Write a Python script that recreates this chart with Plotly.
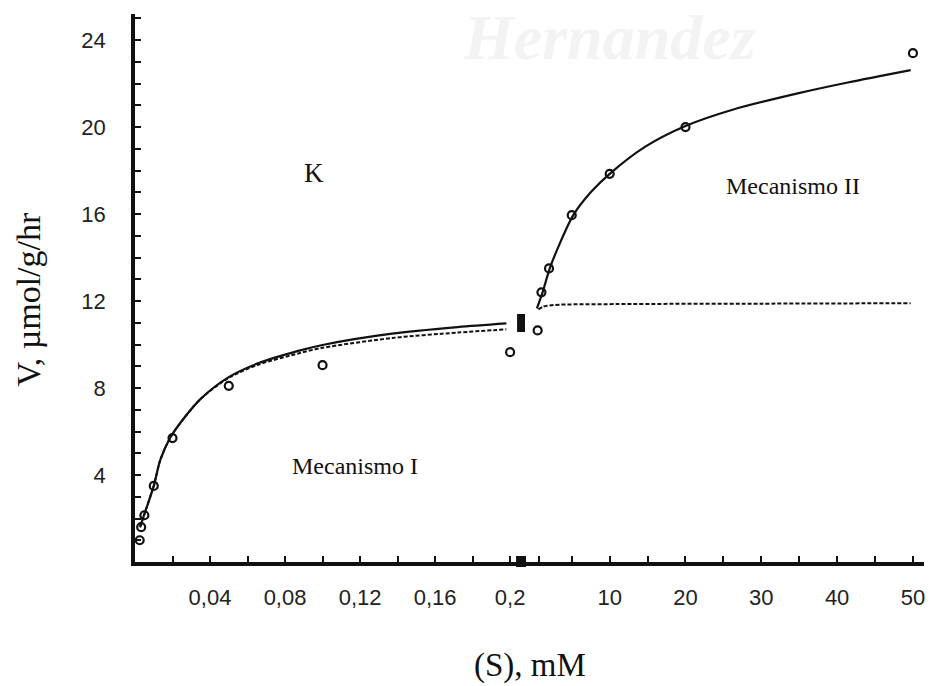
import plotly.graph_objects as go

# Measured rates, low-affinity range (S in mM, V in µmol/g/hr)
s_low = [0.0025, 0.0033, 0.005, 0.01, 0.02, 0.05, 0.1, 0.2]
v_low = [1.0, 1.6, 2.15, 3.5, 5.7, 8.1, 9.05, 9.65]

# Measured rates, high-concentration range
s_high = [0.5, 1, 2, 5, 10, 20, 50]
v_high = [10.65, 12.4, 13.5, 15.95, 17.85, 20.0, 23.4]

# Fitted curve, mechanism I (solid) and its saturating component (dashed)
fit1_s = [0.0027, 0.005, 0.01, 0.0135, 0.019, 0.026, 0.035, 0.05, 0.066, 0.0875, 0.1, 0.137, 0.172, 0.198]
fit1_v = [1.6, 2.2, 3.5, 4.7, 5.75, 6.6, 7.5, 8.5, 9.15, 9.72, 9.98, 10.5, 10.8, 10.97]
dash1_s = [0.0027, 0.005, 0.01, 0.0135, 0.019, 0.026, 0.035, 0.05, 0.066, 0.0875, 0.1, 0.137, 0.172, 0.198]
dash1_v = [1.6, 2.2, 3.5, 4.7, 5.75, 6.6, 7.5, 8.47, 9.08, 9.6, 9.85, 10.3, 10.55, 10.7]

# Fitted curve, mechanism II (solid) and mechanism I plateau (dashed)
fit2_s = [0.4, 1.15, 2.1, 3.3, 5.2, 7.5, 10, 14.7, 20, 26.2, 34.8, 41.4, 49.7]
fit2_v = [11.66, 12.4, 13.5, 14.55, 15.95, 17.0, 17.85, 19.1, 20.05, 20.8, 21.55, 22.05, 22.62]
dash2_s = [0.6, 1.2, 2.7, 11, 30, 49.7]
dash2_v = [11.62, 11.74, 11.82, 11.86, 11.88, 11.9]

# Tick labels
low_ticks = [0.02, 0.04, 0.06, 0.08, 0.10, 0.12, 0.14, 0.16, 0.18, 0.20]
low_text = ["", "0,04", "", "0,08", "", "0,12", "", "0,16", "", "0,2"]
high_ticks = [0.7, 5, 10, 15, 20, 25, 30, 35, 40, 45, 50]
high_text = ["", "", "10", "", "20", "", "30", "", "40", "", "50"]
y_ticks = list(range(1, 26))
y_text = [str(v) if v % 4 == 0 else "" for v in y_ticks]

# Page geometry (pixels)
W, H = 938, 686
L, R, T, B = 135, 10, 14, 124
PW, PH = W - L - R, H - T - B
BREAK_PX = 523


def px(x):
    return (x - L) / PW


def py(y):
    return (H - B - y) / PH


split = px(BREAK_PX)

INK = "#111111"
SERIF = "Liberation Serif"
SANS = "Liberation Sans"

fig = go.Figure()

line_solid = dict(color=INK, width=2.2, shape="spline", smoothing=0.8)
line_dash = dict(color=INK, width=2, dash="4px,2px", shape="spline", smoothing=0.8)
marker = dict(symbol="circle-open", size=8, color=INK, line=dict(width=2.2, color=INK))

fig.add_trace(go.Scatter(x=dash1_s, y=dash1_v, mode="lines", line=line_dash, xaxis="x", yaxis="y"))
fig.add_trace(go.Scatter(x=fit1_s, y=fit1_v, mode="lines", line=line_solid, xaxis="x", yaxis="y"))
fig.add_trace(go.Scatter(x=s_low, y=v_low, mode="markers", marker=marker, cliponaxis=False,
                         xaxis="x", yaxis="y"))

fig.add_trace(go.Scatter(x=dash2_s, y=dash2_v, mode="lines", line=line_dash, xaxis="x2", yaxis="y"))
fig.add_trace(go.Scatter(x=fit2_s, y=fit2_v, mode="lines", line=line_solid, xaxis="x2", yaxis="y"))
fig.add_trace(go.Scatter(x=s_high, y=v_high, mode="markers", marker=marker, cliponaxis=False,
                         xaxis="x2", yaxis="y"))

axis_common = dict(
    showline=True, linewidth=3.5, linecolor=INK,
    ticks="inside", ticklen=6, tickwidth=2, tickcolor=INK,
    showgrid=False, zeroline=False,
    tickfont=dict(family=SANS, size=22, color="#222222"),
)

fig.update_layout(
    width=W, height=H,
    margin=dict(l=L, r=R, t=T, b=B),
    paper_bgcolor="white", plot_bgcolor="white",
    showlegend=False,
    xaxis=dict(domain=[0, split], range=[0, (BREAK_PX - L) / 1885.0], anchor="y",
               tickmode="array", tickvals=low_ticks, ticktext=low_text,
               ticklabelstandoff=13, **axis_common),
    xaxis2=dict(domain=[split, 1], range=[-1.69, 51.46], anchor="y",
                tickmode="array", tickvals=high_ticks, ticktext=high_text,
                ticklabelstandoff=13, **axis_common),
    yaxis=dict(domain=[0, 1], range=[0, 25.2], anchor="x",
               tickmode="array", tickvals=y_ticks, ticktext=y_text,
               ticklabelstandoff=21, **axis_common),
)

# Axis-break markers
fig.add_shape(type="rect", xref="paper", yref="paper",
              x0=px(519), x1=px(527), y0=py(332), y1=py(314),
              fillcolor=INK, line=dict(width=0))
fig.add_shape(type="rect", xref="paper", yref="paper",
              x0=px(518), x1=px(528), y0=py(567), y1=py(556),
              fillcolor=INK, line=dict(width=0))

# Watermark
fig.add_annotation(text="Hernandez", xref="paper", yref="paper", x=px(612), y=py(0),
                   showarrow=False, xanchor="center", yanchor="top",
                   font=dict(family=SERIF, size=64, color="#f3f3f3", style="italic", weight="bold"))

# Panel labels
fig.add_annotation(text="K", xref="x", yref="y", x=0.0957, y=17.9, showarrow=False,
                   font=dict(family=SERIF, size=27, color=INK))
fig.add_annotation(text="Mecanismo I", xref="x", yref="y", x=0.1174, y=4.42, showarrow=False,
                   font=dict(family=SERIF, size=24, color=INK))
fig.add_annotation(text="Mecanismo II", xref="x2", yref="y", x=34.2, y=17.3, showarrow=False,
                   font=dict(family=SERIF, size=24, color=INK))

# Axis titles
fig.add_annotation(text="(S), mM", xref="paper", yref="paper", x=px(532), y=py(665),
                   showarrow=False, xanchor="center", yanchor="middle",
                   font=dict(family=SERIF, size=33, color=INK))
fig.add_annotation(text="V, µmol/g/hr", xref="paper", yref="paper", x=px(27), y=py(299),
                   showarrow=False, textangle=-90, xanchor="center", yanchor="middle",
                   font=dict(family=SERIF, size=34, color=INK))

fig.write_html("out.html")
